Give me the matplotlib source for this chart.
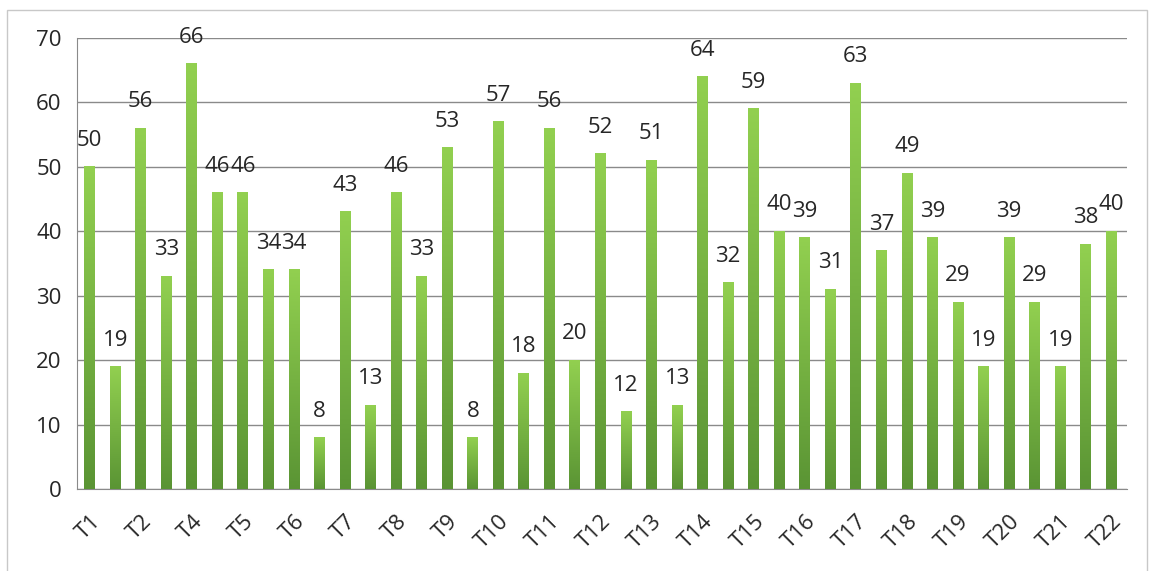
import matplotlib
matplotlib.use("Agg")
import matplotlib.pyplot as plt
import numpy as np
from matplotlib.colors import LinearSegmentedColormap
from matplotlib.patches import Rectangle

# Score per test run, two runs for most tests
VALUES = [50, 19, 56, 33, 66, 46, 46, 34, 34, 8, 43, 13, 46, 33, 53, 8, 57, 18,
          56, 20, 52, 12, 51, 13, 64, 32, 59, 40, 39, 31, 63, 37, 49, 39, 29, 19,
          39, 29, 19, 38, 40]
# Only every other category gets a visible label on the axis
TICK_LABELS = ["T1", "T2", "T4", "T5", "T6", "T7", "T8", "T9", "T10", "T11",
               "T12", "T13", "T14", "T15", "T16", "T17", "T18", "T19", "T20",
               "T21", "T22"]
Y_TICKS = [0, 10, 20, 30, 40, 50, 60, 70]

plt.rcParams["font.family"] = ["Open Sans", "DejaVu Sans"]
TEXT_COLOR = "#262626"

fig = plt.figure(figsize=(11.52, 5.71), dpi=100)
fig.patches.append(Rectangle((0.006, -0.01), 0.99, 0.993, transform=fig.transFigure,
                             fill=False, edgecolor="#c8c8c8", linewidth=1.0))
ax = fig.add_axes([0.0668, 0.1436, 0.9112, 0.79])

x = np.arange(len(VALUES))
width = 0.43
green = LinearSegmentedColormap.from_list("bar_green", ["#5a9434", "#92d050"])
grad = np.linspace(0, 1, 256).reshape(-1, 1)

bars = ax.bar(x, VALUES, width=width, color="none", edgecolor="none", zorder=3)
for rect, v in zip(bars, VALUES):
    x0 = rect.get_x()
    ax.imshow(grad, cmap=green, origin="lower", aspect="auto",
              extent=(x0, x0 + width, 0, v), zorder=3, interpolation="bilinear")
    ax.annotate(str(v), (rect.get_x() + width / 2, v), xytext=(0, 19),
                textcoords="offset points", ha="center", va="center",
                fontsize=16, color=TEXT_COLOR, zorder=4)

ax.set_xlim(-0.5, 40.6)
ax.set_ylim(0, 70)
ax.set_yticks(Y_TICKS)
ax.set_yticklabels([str(t) for t in Y_TICKS], fontsize=16, color=TEXT_COLOR)
ax.set_xticks(x[::2])
ax.set_xticklabels(TICK_LABELS, rotation=45, ha="right", va="top",
                   rotation_mode="anchor", fontsize=16, color=TEXT_COLOR)
ax.tick_params(axis="both", length=0)
ax.tick_params(axis="y", pad=11)
ax.tick_params(axis="x", pad=16)

ax.grid(axis="y", color="#8a8a8a", linewidth=1.0, zorder=0)
ax.set_axisbelow(True)
for side in ["top", "right"]:
    ax.spines[side].set_visible(False)
ax.spines["left"].set_color("#8a8a8a")
ax.spines["bottom"].set_color("#8a8a8a")

fig.savefig("out.png", dpi=100)
